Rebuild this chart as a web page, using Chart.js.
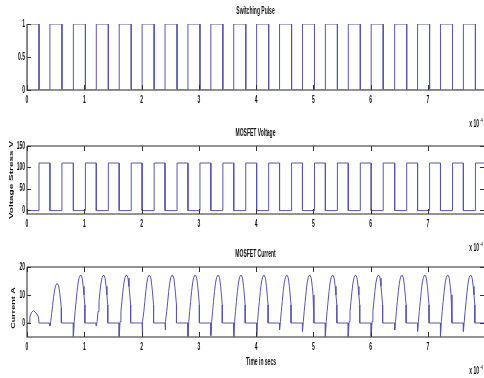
<!DOCTYPE html>
<html>
<head>
<meta charset="utf-8">
<script src="https://cdn.jsdelivr.net/npm/chart.js@4.4.1/dist/chart.umd.min.js"></script>
<style>
  body { margin: 0; background: #fff; }
  #wrap { position: relative; width: 484px; height: 378px; overflow: hidden; }
  #wrap canvas { position: absolute; left: 0; top: 0; }
</style>
</head>
<body>
<div id="wrap">
  <canvas id="pulse" width="484" height="378"></canvas>
  <canvas id="voltage" width="484" height="378"></canvas>
  <canvas id="current" width="484" height="378"></canvas>
</div>
<script>
// time axis (x 10^-4 s)
const xTicks = [0, 1, 2, 3, 4, 5, 6, 7];
const xMax = 7.98;

// switching pulse edges
const pulseOn  = [0, 0.40, 0.81, 1.21, 1.61, 2.01, 2.41, 2.81, 3.21, 3.61, 4.01, 4.41, 4.81, 5.21, 5.61, 6.01, 6.42, 6.82, 7.22, 7.62];
const pulseOff = [0.21, 0.61, 1.02, 1.42, 1.82, 2.22, 2.62, 3.02, 3.42, 3.82, 4.22, 4.62, 5.02, 5.42, 5.82, 6.22, 6.63, 7.03, 7.43, 7.83];
const pulseTicks = [0, 0.5, 1];

// MOSFET voltage levels
const vHigh = 110;
const vLow = -2;
const voltageTicks = [0, 50, 100, 150];

// MOSFET current: first start-up hump, then one hump per on-period
const firstHumpT = [0, 0, 0.04, 0.05, 0.08, 0.11, 0.14, 0.17, 0.2, 0.21];
const firstHumpI = [-5, 0, 0, 2.2, 3.8, 4.4, 4.0, 3.2, 2.2, 0];
const humpPeak = [4.4, 14, 17, 17, 17, 17, 17, 17, 17, 17, 17, 17, 17, 17, 17, 17, 17, 17, 17, 17];
const humpDip  = [-5, -1, -5, -1, -5, -5, -2.5, -5, -4.5, -5, -5, -2.5, -3, -5, -5, -5, -2.5, -3, -5, -3];
const humpOffset = [0.015, 0.03, 0.047, 0.064, 0.082, 0.1, 0.118, 0.136, 0.154, 0.171, 0.185, 0.2];
const humpShape  = [0.03, 0.24, 0.45, 0.66, 0.84, 0.95, 1.0, 1.0, 0.94, 0.77, 0.59, 0.38];
const currentTicks = [0, 10, 20];

const LINE = '#5656b0';
const SQ = 0.5; // the picture is squeezed sideways

// build the point lists
const pulsePts = [{x: 0, y: 0}];
pulseOn.forEach((t, k) => {
  pulsePts.push({x: t, y: 0}, {x: t, y: 1}, {x: pulseOff[k], y: 1}, {x: pulseOff[k], y: 0});
});
pulsePts.push({x: xMax, y: 0});

const voltPts = [];
pulseOn.forEach((t, k) => {
  if (k > 0) voltPts.push({x: t, y: vHigh});
  voltPts.push({x: t, y: vLow}, {x: pulseOff[k], y: vLow}, {x: pulseOff[k], y: vHigh});
});
voltPts.push({x: xMax, y: vHigh});

const currPts = firstHumpT.map((t, j) => ({x: t, y: firstHumpI[j]}));
for (let k = 1; k < pulseOn.length; k++) {
  const s = pulseOn[k];
  currPts.push({x: s, y: 0}, {x: s, y: humpDip[k]});
  humpOffset.forEach((d, j) => currPts.push({x: s + d, y: humpPeak[k] * humpShape[j]}));
  currPts.push({x: s + humpOffset[humpOffset.length - 1], y: 0});
}
currPts.push({x: xMax, y: 0});

function drawText(ctx, str, x, y, o) {
  ctx.save();
  ctx.font = 'bold ' + (o.size || 10) + 'px "Liberation Sans", Arial, sans-serif';
  ctx.fillStyle = '#111';
  ctx.textBaseline = 'middle';
  ctx.translate(x, y);
  if (o.rotate) {
    ctx.rotate(-Math.PI / 2);
    ctx.scale(1, SQ);
  } else {
    ctx.scale(SQ, 1);
  }
  const w = ctx.measureText(str).width;
  const dx = o.align === 'right' ? -w : (o.align === 'left' ? 0 : -w / 2);
  ctx.fillText(str, dx, 0);
  ctx.restore();
}

function axesPlugin(cfg) {
  return {
    id: 'matlabAxes',
    afterDraw(chart) {
      const {ctx, chartArea: a} = chart;
      const x = chart.scales.x, y = chart.scales.y;
      ctx.save();
      ctx.strokeStyle = '#707070';
      ctx.lineWidth = 1.5;
      ctx.beginPath();
      ctx.moveTo(a.left, a.top);
      ctx.lineTo(a.left, a.bottom);
      ctx.lineTo(a.right, a.bottom);
      if (cfg.box) {
        ctx.moveTo(a.left, a.top);
        ctx.lineTo(a.right, a.top);
      }
      ctx.stroke();

      ctx.strokeStyle = '#333';
      ctx.lineWidth = 1;
      ctx.beginPath();
      xTicks.forEach(v => {
        const px = Math.round(x.getPixelForValue(v)) + 0.5;
        ctx.moveTo(px, a.bottom);
        ctx.lineTo(px, a.bottom - 5);
        if (cfg.box) {
          ctx.moveTo(px, a.top);
          ctx.lineTo(px, a.top + 5);
        }
      });
      cfg.yTicks.forEach(v => {
        const py = Math.round(y.getPixelForValue(v)) + 0.5;
        ctx.moveTo(a.left, py);
        ctx.lineTo(a.left + 4, py);
        if (cfg.box) {
          ctx.moveTo(a.right, py);
          ctx.lineTo(a.right - 4, py);
        }
      });
      ctx.stroke();
      ctx.restore();

      // texts
      xTicks.forEach(v => drawText(ctx, String(v), x.getPixelForValue(v), a.bottom + 10, {size: 10}));
      cfg.yTicks.forEach(v => drawText(ctx, String(v), a.left - 2, y.getPixelForValue(v), {size: 10, align: 'right'}));
      drawText(ctx, cfg.title, (a.left + a.right) / 2, a.top - 13, {size: 10});
      drawText(ctx, 'x 10', 479, a.bottom + 34, {size: 10, align: 'right'});
      drawText(ctx, '-4', 480, a.bottom + 30, {size: 6, align: 'left'});
      if (cfg.yLabel) {
        drawText(ctx, cfg.yLabel, cfg.yLabelX, (a.top + a.bottom) / 2 + (cfg.yLabelShift || 0), {size: cfg.yLabelSize, rotate: true});
      }
      if (cfg.xLabel) {
        drawText(ctx, cfg.xLabel, 261, a.bottom + 25, {size: 10});
      }
    }
  };
}

function makeChart(id, points, cfg) {
  return new Chart(document.getElementById(id), {
    type: 'line',
    data: {
      datasets: [{
        data: points,
        borderColor: LINE,
        borderWidth: 1,
        pointRadius: 0,
        tension: 0,
        fill: false
      }]
    },
    options: {
      responsive: false,
      animation: false,
      layout: {padding: {top: cfg.top, bottom: 378 - cfg.bottom - 10, left: 0, right: 0}},
      plugins: {legend: {display: false}, tooltip: {enabled: false}},
      scales: {
        x: {
          type: 'linear', min: 0, max: xMax,
          ticks: {display: false}, grid: {display: false}, border: {display: false},
          afterFit: s => { s.height = 10; }
        },
        y: {
          type: 'linear', min: cfg.yMin, max: cfg.yMax,
          ticks: {display: false}, grid: {display: false}, border: {display: false},
          afterFit: s => { s.width = 27; }
        }
      }
    },
    plugins: [axesPlugin(cfg)]
  });
}

makeChart('pulse', pulsePts, {
  top: 24, bottom: 90, yMin: 0, yMax: 1, yTicks: pulseTicks,
  title: 'Switching Pulse', box: false
});
makeChart('voltage', voltPts, {
  top: 146, bottom: 214, yMin: -10, yMax: 150, yTicks: voltageTicks,
  title: 'MOSFET Voltage', box: true,
  yLabel: 'Voltage Stress V', yLabelX: 12, yLabelSize: 10
});
makeChart('current', currPts, {
  top: 267, bottom: 337, yMin: -5, yMax: 20, yTicks: currentTicks,
  title: 'MOSFET Current', box: true,
  yLabel: 'Current A', yLabelX: 14, yLabelSize: 9, yLabelShift: 6,
  xLabel: 'Time in secs'
});
</script>
</body>
</html>
